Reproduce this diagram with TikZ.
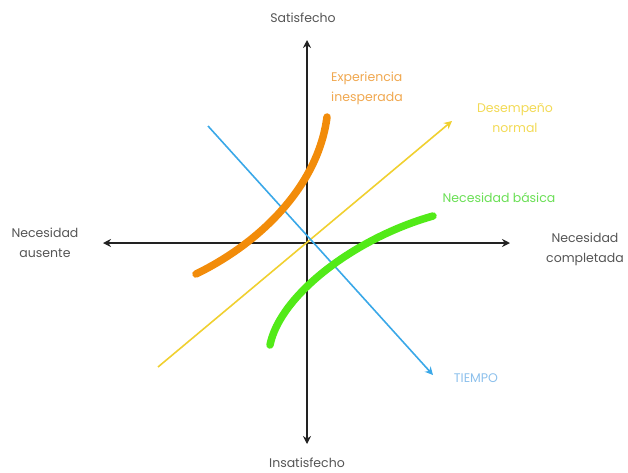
\documentclass[tikz,border=0pt]{standalone}
\usepackage{fontspec}
\setmainfont{Poppins}
\usetikzlibrary{arrows.meta}
\definecolor{axisgray}{HTML}{222222}
\definecolor{labelgray}{HTML}{555555}
\definecolor{curveorange}{HTML}{F28C0A}
\definecolor{labelorange}{HTML}{F0A850}
\definecolor{lineyellow}{HTML}{F0D030}
\definecolor{labelyellow}{HTML}{F2DA55}
\definecolor{curvegreen}{HTML}{52EA18}
\definecolor{labelgreen}{HTML}{6ADF55}
\definecolor{lineblue}{HTML}{3AA8E8}
\definecolor{labelblue}{HTML}{8CC0EC}
\tikzset{
  axis/.style={draw=axisgray, line width=1.8pt, -{Stealth[length=8pt,width=8pt]}},
  thin arrow/.style={line width=1.6pt, -{Stealth[length=8pt,width=8pt]}},
  thick curve/.style={line width=7.5pt, line cap=round},
  lbl/.style={font=\fontsize{12.5}{20}\selectfont, align=center, inner sep=0pt},
}
\begin{document}
\begin{tikzpicture}[x=1pt,y=-1pt]
  \useasboundingbox (0,0) rectangle (628,472);
  % axis end points
  \coordinate (origin) at (307,243);
  \coordinate (top) at (307,40);
  \coordinate (bottom) at (307,444);
  \coordinate (left) at (103,243);
  \coordinate (right) at (510,243);
  % axes
  \draw[axis] (origin) -- (top);
  \draw[axis] (origin) -- (bottom);
  \draw[axis] (origin) -- (left);
  \draw[axis] (origin) -- (right);
  % axis labels
  \node[lbl, text=labelgray] (sat) at (303,18) {Satisfecho};
  \node[lbl, text=labelgray] (insat) at (307,463) {Insatisfecho};
  \node[lbl, text=labelgray] (aus) at (45,243) {Necesidad\\ausente};
  \node[lbl, text=labelgray] (comp) at (585,249) {Necesidad\\completada};
  % performance and time lines
  \coordinate (ystart) at (158,367);
  \coordinate (yend) at (452,121);
  \draw[thin arrow, draw=lineyellow, fill=lineyellow] (ystart) -- (yend);
  \coordinate (bstart) at (208,126);
  \coordinate (bend) at (433,375);
  \draw[thin arrow, draw=lineblue, fill=lineblue] (bstart) -- (bend);
  % Kano curves
  \coordinate (ostart) at (196,274);
  \coordinate (oend) at (327,117);
  \draw[thick curve, draw=curveorange] (ostart) .. controls (260,243) and (318,186) .. (oend);
  \coordinate (gstart) at (270,345);
  \coordinate (gend) at (433,216);
  \draw[thick curve, draw=curvegreen] (gstart) .. controls (280,295) and (355,238) .. (gend);
  % curve labels
  \node[lbl, align=left, anchor=west, text=labelorange] (exp) at (331,88) {Experiencia\\inesperada};
  \node[lbl, text=labelyellow] (des) at (515,118) {Desempeño\\normal};
  \node[lbl, text=labelgreen] (bas) at (499,198) {Necesidad básica};
  \node[lbl, text=labelblue] (tiempo) at (476,378) {TIEMPO};
\end{tikzpicture}
\end{document}
